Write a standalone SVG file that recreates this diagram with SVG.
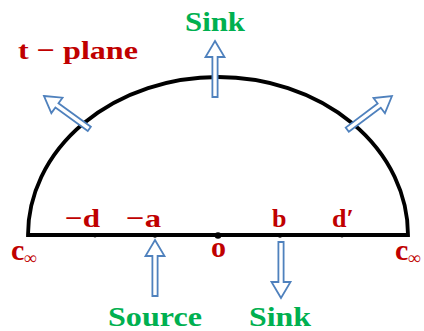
<svg xmlns="http://www.w3.org/2000/svg" width="424" height="331" viewBox="0 0 424 331">
<style>
.r{font-family:"Liberation Serif","DejaVu Serif",serif;font-weight:bold;fill:#c00000;font-size:26px}
.g{font-family:"Liberation Serif","DejaVu Serif",serif;font-weight:bold;fill:#00b050;font-size:27px}
.big{font-size:30px}
.sub{font-size:18px}
.arr{fill:#ffffff;stroke:#4f81bd;stroke-width:1.8;stroke-linejoin:miter}
.ln{fill:none;stroke:#000;stroke-width:3.8}
</style>
<defs>
<path id="arrow" d="M0,0 L9.5,16 L2.6,16 L2.6,56 L-2.6,56 L-2.6,16 L-9.5,16 Z"/>
</defs>
<g id="boundary">
<path class="ln" d="M28,235 A190,158 0 0 1 408,235 Z"/>
</g>
<g id="points">
<circle cx="95" cy="235.5" r="2"/>
<circle cx="155" cy="235.5" r="2.2"/>
<circle cx="218" cy="235.5" r="3.3"/>
<circle cx="280" cy="235.5" r="2.2"/>
<circle cx="342" cy="235.5" r="2"/>
</g>
<g id="connectors">
<use href="#arrow" class="arr" transform="translate(215,41)"/>
<use href="#arrow" class="arr" transform="translate(44,96) rotate(-54)"/>
<use href="#arrow" class="arr" transform="translate(392,96) rotate(53)"/>
<use href="#arrow" class="arr" transform="translate(155,240)"/>
<use href="#arrow" class="arr" transform="translate(281,298) rotate(180)"/>
</g>
<g id="labels">
<text class="r" x="18" y="59" textLength="120" lengthAdjust="spacingAndGlyphs">t − plane</text>
<text class="g" x="185" y="31" textLength="60" lengthAdjust="spacingAndGlyphs">Sink</text>
<text class="r" x="65" y="227" textLength="35" lengthAdjust="spacingAndGlyphs">−d</text>
<text class="r" x="126" y="227" textLength="35" lengthAdjust="spacingAndGlyphs">−a</text>
<text class="r" x="272" y="227">b</text>
<text class="r" x="332" y="227">d′</text>
<text class="r big" x="211" y="257">o</text>
<text class="r big" x="11" y="260">c<tspan class="sub" dy="4">∞</tspan></text>
<text class="r big" x="395" y="260">c<tspan class="sub" dy="4">∞</tspan></text>
<text class="g" x="108" y="326" textLength="94" lengthAdjust="spacingAndGlyphs">Source</text>
<text class="g" x="249" y="326" textLength="62" lengthAdjust="spacingAndGlyphs">Sink</text>
</g>
</svg>
